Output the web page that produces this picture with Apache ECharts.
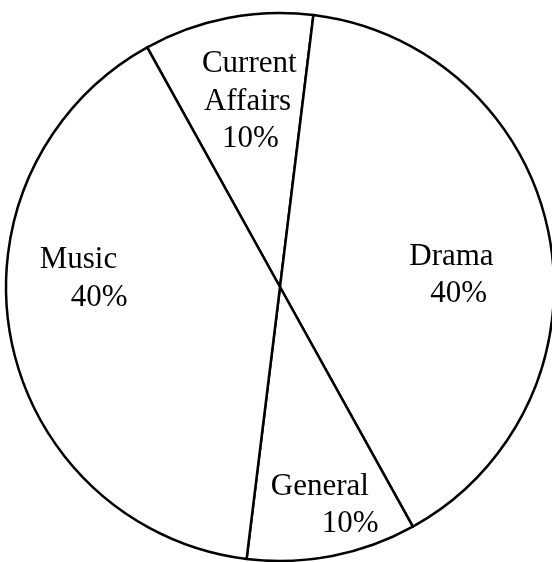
<!DOCTYPE html>
<html><head><meta charset="utf-8">
<script src="https://cdn.jsdelivr.net/npm/echarts@6/dist/echarts.min.js"></script>
<style>html,body{margin:0;padding:0;background:#fff}#c{width:552px;height:562px}</style>
</head><body><div id="c"></div>
<script>
// Data
const categories = ['Current Affairs', 'Drama', 'General', 'Music'];
const labelNameLines = [['Current', 'Affairs'], ['Drama'], ['General'], ['Music']];
const values = [10, 40, 10, 40];

// Label placement tweaks (offsets from the library's inside position, line indents)
const labelShift = [[-4, -48], [34, 15], [18, 81], [-59, -35]];
const lineIndent = [[0, 2, 20], [0, 21], [0, 51], [0, 31]];

const FONT = 'Liberation Serif';
const FS = 31, LH = 37.5;

const data = categories.map((name, i) => {
  const lines = labelNameLines[i].concat([values[i] + '%']);
  const rich = {};
  lines.forEach((t, k) => {
    rich['p' + k] = {
      align: 'left', fontFamily: FONT, fontSize: FS, lineHeight: LH, color: '#000',
      padding: [0, 0, 0, lineIndent[i][k] || 0]
    };
  });
  return {
    name, value: values[i],
    label: {
      formatter: () => lines.map((t, k) => '{p' + k + '|' + t + '}').join('\n'),
      rich
    }
  };
});

const chart = echarts.init(document.getElementById('c'));
chart.setOption({
  backgroundColor: '#fff',
  animation: false,
  series: [{
    type: 'pie',
    center: [280, 287],
    radius: [0, 274],
    startAngle: 119,
    clockwise: true,
    silent: true,
    data,
    itemStyle: { color: '#fff', borderColor: '#000', borderWidth: 2.5 },
    label: {
      show: true, position: 'inside', color: '#000',
      fontFamily: FONT, fontSize: FS, lineHeight: LH
    },
    labelLine: { show: false },
    emphasis: { disabled: true },
    labelLayout: function (p) {
      const s = labelShift[p.dataIndex];
      return { dx: s[0], dy: s[1] };
    }
  }]
});
</script></body></html>
